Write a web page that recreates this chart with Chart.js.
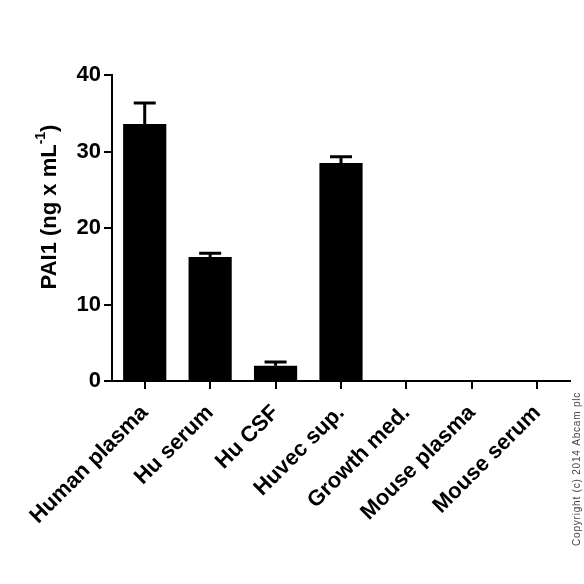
<!DOCTYPE html>
<html>
<head>
<meta charset="utf-8">
<script src="https://cdn.jsdelivr.net/npm/chart.js@4.4.0/dist/chart.umd.min.js"></script>
<style>
  body { margin: 0; background: #fff; }
  canvas { display: block; }
</style>
</head>
<body>
<canvas id="chart" width="584" height="584"></canvas>
<script>
// dados do gráfico
const categories = ["Human plasma", "Hu serum", "Hu CSF", "Huvec sup.", "Growth med.", "Mouse plasma", "Mouse serum"];
const meanValues = [33.6, 16.2, 2.0, 28.5, 0, 0, 0];
const errorValues = [2.75, 0.5, 0.5, 0.8, 0, 0, 0];
const yTicks = [0, 10, 20, 30, 40];

const FONT = "'Liberation Sans', Arial, sans-serif";

// barras de erro (só a parte de cima)
const errorBars = {
  id: 'errorBars',
  afterDatasetsDraw(chart) {
    const ctx = chart.ctx;
    const meta = chart.getDatasetMeta(0);
    const y = chart.scales.y;
    ctx.save();
    ctx.strokeStyle = '#000';
    ctx.lineWidth = 3;
    meta.data.forEach((bar, i) => {
      const err = errorValues[i];
      if (!err) return;
      const yBar = y.getPixelForValue(meanValues[i]);
      const yTop = y.getPixelForValue(meanValues[i] + err);
      ctx.beginPath();
      ctx.moveTo(bar.x, yBar);
      ctx.lineTo(bar.x, yTop);
      ctx.moveTo(bar.x - 11, yTop);
      ctx.lineTo(bar.x + 11, yTop);
      ctx.stroke();
    });
    ctx.restore();
  }
};

// título do eixo y com expoente + copyright
const extraText = {
  id: 'extraText',
  afterDraw(chart) {
    const ctx = chart.ctx;
    ctx.save();
    ctx.fillStyle = '#000';
    ctx.translate(50, 207);
    ctx.rotate(-Math.PI / 2);
    const main = 'PAI1 (ng x mL';
    const sup = '-1';
    const end = ')';
    ctx.font = 'bold 22px ' + FONT;
    const wMain = ctx.measureText(main).width;
    const wEnd = ctx.measureText(end).width;
    ctx.font = 'bold 14px ' + FONT;
    const wSup = ctx.measureText(sup).width;
    let x = -(wMain + wSup + wEnd) / 2;
    ctx.textBaseline = 'middle';
    ctx.textAlign = 'left';
    ctx.font = 'bold 22px ' + FONT;
    ctx.fillText(main, x, 0);
    x += wMain;
    ctx.font = 'bold 14px ' + FONT;
    ctx.fillText(sup, x, -9);
    x += wSup;
    ctx.font = 'bold 22px ' + FONT;
    ctx.fillText(end, x, 0);
    ctx.restore();

    ctx.save();
    ctx.fillStyle = '#444';
    ctx.font = '10px ' + FONT;
    ctx.letterSpacing = '0.8px';
    ctx.translate(580, 546);
    ctx.rotate(-Math.PI / 2);
    ctx.textAlign = 'left';
    ctx.textBaseline = 'alphabetic';
    ctx.fillText('Copyright (c) 2014 Abcam plc', 0, 0);
    ctx.restore();
  }
};

new Chart(document.getElementById('chart').getContext('2d'), {
  type: 'bar',
  data: {
    labels: categories,
    datasets: [{
      data: meanValues,
      backgroundColor: '#000',
      borderWidth: 0,
      barPercentage: 0.66,
      categoryPercentage: 1
    }]
  },
  options: {
    responsive: false,
    animation: false,
    layout: { padding: { left: 0, top: 75, right: 14, bottom: 0 } },
    plugins: { legend: { display: false }, tooltip: { enabled: false } },
    scales: {
      x: {
        afterFit: (s) => { s.height = 203; },
        grid: { display: true, offset: false, drawOnChartArea: false, drawTicks: true, tickLength: 8, color: '#000', lineWidth: 2 },
        border: { display: true, color: '#000', width: 2 },
        ticks: {
          autoSkip: false,
          minRotation: 45,
          maxRotation: 45,
          padding: 11,
          color: '#000',
          font: { family: FONT, size: 22, weight: 'bold' }
        }
      },
      y: {
        min: 0,
        max: 40,
        afterFit: (s) => { s.width = 112; },
        afterBuildTicks: (s) => { s.ticks = yTicks.map(v => ({ value: v })); },
        grid: { display: true, drawOnChartArea: false, drawTicks: true, tickLength: 8, color: '#000', lineWidth: 2 },
        border: { display: true, color: '#000', width: 2 },
        ticks: {
          padding: 3,
          color: '#000',
          font: { family: FONT, size: 22, weight: 'bold' }
        }
      }
    }
  },
  plugins: [errorBars, extraText]
});
</script>
</body>
</html>
